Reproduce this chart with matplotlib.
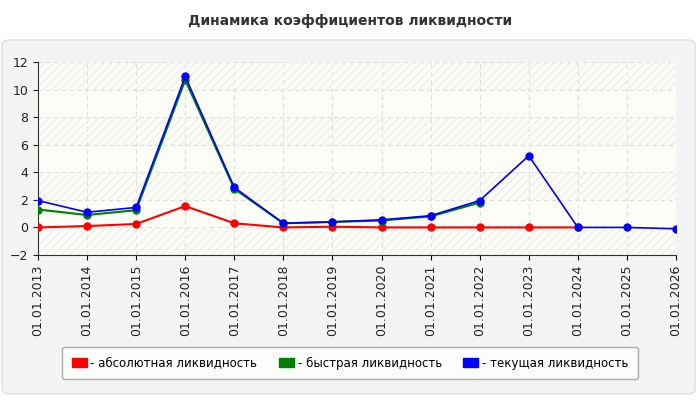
import matplotlib
matplotlib.use("Agg")
import matplotlib.pyplot as plt
from matplotlib.patches import FancyBboxPatch
import numpy as np

dates = [f"01.01.{y}" for y in range(2013, 2027)]
absolute = [0.0, 0.1, 0.25, 1.55, 0.3, 0.0, 0.05, 0.0, 0.0, 0.0, 0.0, 0.0]
quick = [1.3, 0.9, 1.25, 10.7, 2.8, 0.3, 0.4, 0.5, 0.8, 1.8]
current = [1.95, 1.1, 1.45, 10.95, 2.9, 0.3, 0.4, 0.55, 0.85, 1.95, 5.2, 0.0, 0.0, -0.1]
labels = ["- абсолютная ликвидность", "- быстрая ликвидность", "- текущая ликвидность"]

fig = plt.figure(figsize=(7, 4), dpi=100)
fig.patch.set_facecolor("white")
panel = FancyBboxPatch((0.003, 0.015), 0.99, 0.885, boxstyle="round,pad=0,rounding_size=0.012",
                       transform=fig.transFigure, facecolor="#f4f4f4", edgecolor="#e0e0e0", lw=1,
                       zorder=-10)
fig.patches.append(panel)
fig.text(0.5, 0.948, "Динамика коэффициентов ликвидности", ha="center", va="center",
         fontsize=10, fontweight="bold", color="#333333")

ax = fig.add_axes([38/700, 1-255/400, (676-38)/700, (255-62)/400])
ax.set_facecolor("#fdfdf8")
x = np.arange(len(dates))
ax.set_xlim(0, len(dates)-1)
ax.set_ylim(-2, 12)
for i, y0 in enumerate(range(-2, 12, 2)):
    if i % 2 == 0:
        ax.axhspan(y0, y0+2, facecolor="none", hatch="////", edgecolor="#eeeeee", lw=0)
ax.grid(True, ls=(0, (4, 3)), color="#dddddd", lw=0.8)
ax.set_axisbelow(True)
ax.plot(x[:len(absolute)], absolute, color="red", marker="o", ms=5, lw=1.5, label=labels[0], zorder=3)
ax.plot(x[:len(quick)], quick, color="green", marker="o", ms=5, lw=1.5, label=labels[1], zorder=4)
ax.plot(x, current, color="blue", marker="o", ms=5, lw=1.2, label=labels[2], zorder=5)
ax.set_xticks(x)
ax.set_xticklabels(dates, rotation=90, fontsize=9, color="#222222")
ax.set_yticks(range(-2, 13, 2))
ax.tick_params(axis="y", labelsize=9, colors="#222222")
for s in ["top", "right"]:
    ax.spines[s].set_visible(False)
ax.spines["left"].set_color("#333333")
ax.spines["bottom"].set_color("#333333")

handles = [plt.Rectangle((0, 0), 1, 1, color=c) for c in ["red", "green", "blue"]]
leg = fig.legend(handles, labels, loc="center", bbox_to_anchor=(350/700, 1-363/400), ncol=3,
                 fontsize=8.5, frameon=True, fancybox=True, edgecolor="#999999", facecolor="white",
                 handlelength=1.3, handleheight=0.8, handletextpad=0.3, columnspacing=1.8,
                 borderpad=0.8)
fig.savefig("out.png", dpi=100, facecolor="white")
